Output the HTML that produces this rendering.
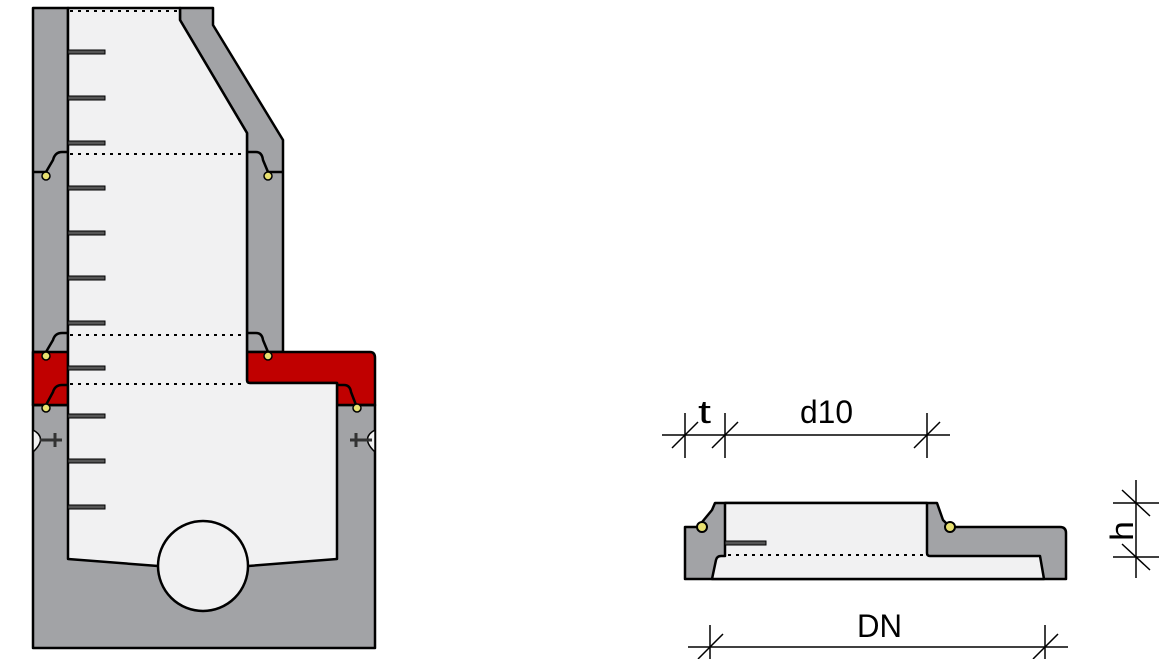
<!DOCTYPE html>
<html><head><meta charset="utf-8"><style>html,body{margin:0;padding:0;background:#fff}svg{display:block}</style></head>
<body>
<svg width="1173" height="659" viewBox="0 0 1173 659" xmlns="http://www.w3.org/2000/svg" font-family="Liberation Sans, sans-serif">
<g stroke="#000" stroke-width="2.5" stroke-linejoin="round">
<rect x="33" y="405" width="342" height="243" fill="#a2a3a6"/>
<rect x="33" y="8" width="35" height="397" fill="#a2a3a6"/>
<polygon points="180,8 213,8 213,25 283,140 283,352 247,352 247,133 180,20" fill="#a2a3a6"/>
<rect x="33" y="352" width="35" height="53" fill="#c00000"/>
<path d="M247,352 H370 Q375,352 375,358 V405 H337 V383 H250 Q247,383 247,380 Z" fill="#c00000"/>
<path d="M68,8 H180 V20 L247,133 V380 Q247,383 250,383 H337 V559 L248,566 L158,566 L68,559 Z" fill="#f1f1f2"/>
<circle cx="203" cy="566" r="45" fill="#f1f1f2"/>
</g>
<g fill="none" stroke="#000" stroke-width="2.5">
<path d="M33,172 H46 L53,160 Q55,152 62,152 H68"/>
<path d="M247,152 H256 Q262,152 263,160 L268,172 H283"/>
<path d="M33,352 H46 L53,340 Q55,333 62,333 H68"/>
<path d="M247,333 H256 Q262,333 263,340 L268,352"/>
<path d="M33,405 H46 L53,392 Q55,385 62,385 H68"/>
<path d="M337,385 H344 Q350,385 351,392 L356,405 H375"/>
</g>
<g fill="#e8e070" stroke="#000" stroke-width="1.5">
<circle cx="46" cy="176" r="4"/><circle cx="268" cy="176" r="4"/>
<circle cx="46" cy="356" r="4"/><circle cx="268" cy="356" r="4"/>
<circle cx="46" cy="408" r="4"/><circle cx="357" cy="408" r="4"/>
</g>
<g fill="#f1f1f2" stroke="#000" stroke-width="1.5">
<path d="M33,430 Q48,438 33,452 Z"/><path d="M375,430 Q360,438 375,452 Z"/>
</g>
<g stroke="#333" stroke-width="3"><line x1="40" y1="440" x2="62" y2="440"/><line x1="350" y1="440" x2="372" y2="440"/><line x1="55" y1="433" x2="55" y2="447"/><line x1="356" y1="433" x2="356" y2="447"/></g>
<g fill="#555" stroke="#000" stroke-width="1">
<rect x="68" y="50" width="37" height="4"/><rect x="68" y="96" width="37" height="4"/><rect x="68" y="141" width="37" height="4"/>
<rect x="68" y="186" width="37" height="4"/><rect x="68" y="231" width="37" height="4"/><rect x="68" y="276" width="37" height="4"/>
<rect x="68" y="321" width="37" height="4"/><rect x="68" y="366" width="37" height="4"/><rect x="68" y="414" width="37" height="4"/>
<rect x="68" y="459" width="37" height="4"/><rect x="68" y="505" width="37" height="4"/>
</g>
<g stroke="#000" stroke-width="2" stroke-dasharray="3,5">
<line x1="70" y1="11" x2="180" y2="11"/><line x1="70" y1="154" x2="245" y2="154"/>
<line x1="70" y1="335" x2="245" y2="335"/><line x1="70" y1="384" x2="245" y2="384"/>
</g>

<g stroke="#000" stroke-width="2.5" stroke-linejoin="round">
<path d="M685,527 H698 L712,510 L715,503 H937 L943,520 L950,527 H1060 Q1066,527 1066,533 V579 H685 Z" fill="#a2a3a6"/>
<path d="M725,503 H927 V553 Q927,556 930,556 H1040 L1044,579 H712 L716,560 Q717,556 721,556 H725 Z" fill="#f1f1f2"/>
</g>
<line x1="725" y1="505" x2="725" y2="556" stroke="#000" stroke-width="2"/>
<rect x="725" y="541" width="41" height="4" fill="#555" stroke="#000" stroke-width="1"/>
<line x1="728" y1="555" x2="927" y2="555" stroke="#000" stroke-width="2" stroke-dasharray="3,5"/>
<g fill="#e8e070" stroke="#000" stroke-width="2"><circle cx="702" cy="527" r="5"/><circle cx="950" cy="527" r="5"/></g>

<g stroke="#000" stroke-width="1.5">
<line x1="662" y1="435" x2="950" y2="435"/>
<line x1="685" y1="413" x2="685" y2="458"/><line x1="725" y1="413" x2="725" y2="458"/><line x1="927" y1="413" x2="927" y2="458"/>
<line x1="672" y1="448" x2="698" y2="422"/><line x1="712" y1="448" x2="738" y2="422"/><line x1="914" y1="448" x2="940" y2="422"/>
<line x1="688" y1="647" x2="1068" y2="647"/>
<line x1="710" y1="625" x2="710" y2="659"/><line x1="1045" y1="625" x2="1045" y2="659"/>
<line x1="698" y1="659" x2="723" y2="634"/><line x1="1033" y1="659" x2="1058" y2="634"/>
<line x1="1136" y1="480" x2="1136" y2="578"/>
<line x1="1113" y1="503" x2="1159" y2="503"/><line x1="1113" y1="557" x2="1159" y2="557"/>
<line x1="1122" y1="490" x2="1150" y2="516"/><line x1="1122" y1="544" x2="1150" y2="570"/>
</g>
<g font-size="32" fill="#000">
<text x="698" y="423" textLength="13" lengthAdjust="spacingAndGlyphs">t</text>
<text x="800" y="423" textLength="53" lengthAdjust="spacingAndGlyphs">d10</text>
<text x="857" y="637" textLength="45" lengthAdjust="spacingAndGlyphs">DN</text>
<text transform="translate(1133,541) rotate(-90)" textLength="20" lengthAdjust="spacingAndGlyphs">h</text>
</g>
</svg>
</body></html>
